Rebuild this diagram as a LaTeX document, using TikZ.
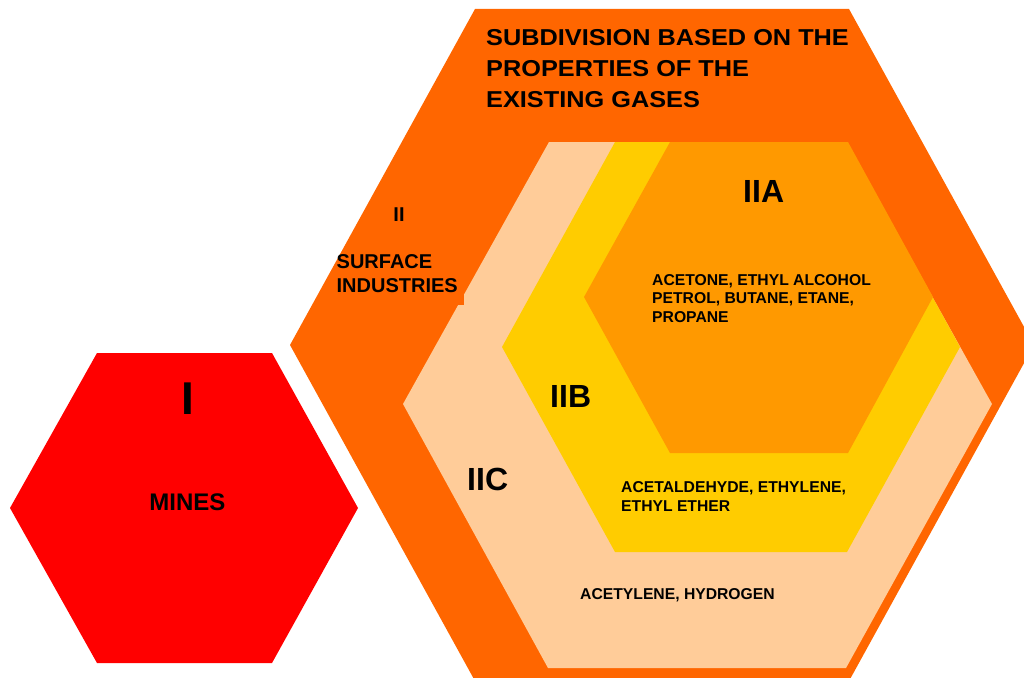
\documentclass[tikz,border=0pt]{standalone}
\usepackage{fontspec}
\setmainfont{Liberation Sans}
\newfontfamily\titlefont[FakeStretch=1.1]{Liberation Sans}
\definecolor{hexred}{HTML}{FF0000}
\definecolor{hexorange}{HTML}{FF6600}
\definecolor{hexpeach}{HTML}{FFCC99}
\definecolor{hexyellow}{HTML}{FFCC00}
\definecolor{hexamber}{HTML}{FF9900}
\tikzset{
  gastext/.style={anchor=north west, inner sep=0pt, align=left, font=\fontsize{15.7}{18.8}\selectfont\bfseries},
  grouptext/.style={anchor=north west, inner sep=0pt, font=\fontsize{32}{32}\selectfont\bfseries},
}
\begin{document}
\begin{tikzpicture}[x=1pt,y=-1pt]
\useasboundingbox (0,0) rectangle (1024,677);
\clip (0,0) rectangle (1024,677);
% group I
\fill[hexred] (97,353) -- (272,353) -- (358,508) -- (272,663) -- (97,663) -- (10,508) -- cycle;
\node[anchor=north, inner sep=0pt, font=\fontsize{46}{46}\selectfont\bfseries] (groupI) at (188,383) {I};
\node[anchor=north, inner sep=0pt, font=\fontsize{24}{24}\selectfont\bfseries] (mines) at (187.5,494) {MINES};
% group II and its subdivision
\fill[hexorange] (475,9) -- (849,9) -- (1034,345) -- (849,681) -- (475,681) -- (290,345) -- cycle;
\fill[hexpeach] (549,142) -- (846,142) -- (992,404) -- (846,668) -- (548,668) -- (403,404) -- cycle;
\fill[hexyellow] (615,142) -- (847,142) -- (960,347) -- (847,552) -- (615,552) -- (502,347) -- cycle;
\fill[hexamber] (670,142) -- (848,142) -- (933,297) -- (848,453) -- (670,453) -- (584,297) -- cycle;
\fill[hexorange] (400,270) rectangle (464,305);
\node[anchor=north west, inner sep=0pt, align=left, font=\titlefont\bfseries\fontsize{23}{31}\selectfont] (title) at (486,29.3)
  {SUBDIVISION BASED ON THE\\PROPERTIES OF THE\\EXISTING GASES};
\node[anchor=north, inner sep=0pt, font=\fontsize{20}{20}\selectfont\bfseries] (groupII) at (399,208) {II};
\node[anchor=south east, inner sep=0pt, align=left, font=\fontsize{20}{24}\selectfont\bfseries] (surface) at (458,293)
  {SURFACE\\INDUSTRIES};
\node[grouptext] (IIA) at (743,180) {IIA};
\node[gastext] (gasA) at (652,274) {ACETONE, ETHYL ALCOHOL\\PETROL, BUTANE, ETANE,\\PROPANE};
\node[grouptext] (IIB) at (550,385) {IIB};
\node[gastext] (gasB) at (621,481.7) {ACETALDEHYDE, ETHYLENE,\\ETHYL ETHER};
\node[grouptext] (IIC) at (467,468) {IIC};
\node[gastext] (gasC) at (580,588) {ACETYLENE, HYDROGEN};
\end{tikzpicture}
\end{document}
